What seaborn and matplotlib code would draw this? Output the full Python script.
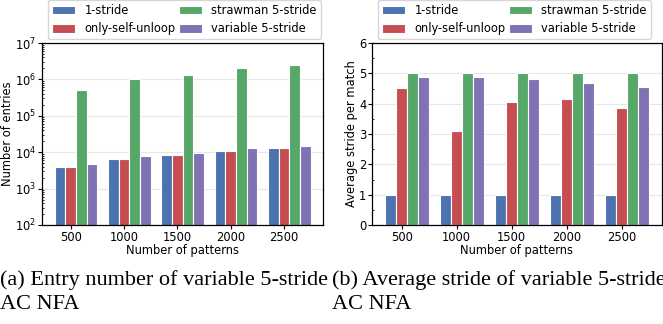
import numpy as np
import pandas as pd
import matplotlib
matplotlib.use("Agg")
import matplotlib.pyplot as plt
import seaborn as sns

# data
patterns = ["500", "1000", "1500", "2000", "2500"]
methods = ["1-stride", "only-self-unloop", "strawman 5-stride", "variable 5-stride"]

entries_1stride = [3900, 6700, 8400, 10900, 12900]
entries_selfunloop = [3900, 6700, 8400, 10900, 12900]
entries_strawman = [520000, 1020000, 1310000, 2050000, 2520000]
entries_variable = [4700, 7900, 9800, 13200, 15200]

stride_1stride = [1.0, 1.0, 1.0, 1.0, 1.0]
stride_selfunloop = [4.52, 3.10, 4.07, 4.17, 3.87]
stride_strawman = [5.0, 5.0, 5.0, 5.0, 5.0]
stride_variable = [4.89, 4.87, 4.81, 4.67, 4.56]


def long_df(cols):
    rows = []
    for m, vals in zip(methods, cols):
        for p, v in zip(patterns, vals):
            rows.append({"patterns": p, "method": m, "value": v})
    return pd.DataFrame(rows)


df_entries = long_df([entries_1stride, entries_selfunloop, entries_strawman, entries_variable])
df_stride = long_df([stride_1stride, stride_selfunloop, stride_strawman, stride_variable])

plt.rcParams["font.family"] = ["DejaVu Sans"]
plt.rcParams["font.size"] = 8
deep = sns.color_palette("deep", 10)
palette = [deep[0], deep[3], deep[2], deep[4]]

fig = plt.figure(figsize=(6.63, 3.24), dpi=100)
ax1 = fig.add_axes([42 / 663, 99 / 324, 281 / 663, 182 / 324])
ax2 = fig.add_axes([372 / 663, 99 / 324, 290 / 663, 182 / 324])


def draw(ax, df, ylabel):
    sns.barplot(data=df, x="patterns", y="value", hue="method", palette=palette,
                ax=ax, width=0.8, edgecolor="white", linewidth=0.8, saturation=1)
    ax.set_axisbelow(True)
    ax.yaxis.grid(True, color="#e6e6e6", linewidth=0.8)
    ax.set_xticks(np.arange(5) - 0.1, patterns)
    ax.set_xlim(-0.64, 4.63)
    ax.set_xlabel("Number of patterns", fontsize=8.3, labelpad=0)
    ax.set_ylabel(ylabel, fontsize=8.3, labelpad=1)
    ax.tick_params(axis="both", labelsize=8.3, length=3, pad=1)
    ax.tick_params(axis="y", which="minor", direction="in", length=1.5)
    for s in ax.spines.values():
        s.set_color("black")
        s.set_linewidth(0.9)
    h, l = ax.get_legend_handles_labels()
    ax.get_legend().remove()
    return h, l


h, l = draw(ax1, df_entries, "Number of entries")
ax1.set_yscale("log")
ax1.set_ylim(1e2, 1e7)

draw(ax2, df_stride, "Average stride per match")
ax2.set_ylim(0, 6)
ax2.set_yticks(range(7))
ax2.set_yticks(np.arange(0, 6, 0.5), minor=True)

for ax, x0 in [(ax1, 48), (ax2, 378)]:
    ax.legend(h, l, ncol=2, fontsize=8.3, loc="upper left",
              bbox_to_anchor=(x0 / 663, 1.0), bbox_transform=fig.transFigure,
              borderaxespad=0, frameon=True, edgecolor="#cccccc",
              handlelength=2.0, handleheight=0.8, columnspacing=0.3,
              handletextpad=0.8, borderpad=0.35, labelspacing=0.45,
              fancybox=True)

cap = dict(fontfamily="Liberation Serif", fontsize=16, va="baseline")
fig.text(0, 1 - 285 / 324, "(a) Entry number of variable 5-stride", **cap)
fig.text(0, 1 - 309 / 324, "AC NFA", **cap)
fig.text(332 / 663, 1 - 285 / 324, "(b) Average stride of variable 5-stride", **cap)
fig.text(332 / 663, 1 - 309 / 324, "AC NFA", **cap)

fig.savefig("out.png", dpi=100)
